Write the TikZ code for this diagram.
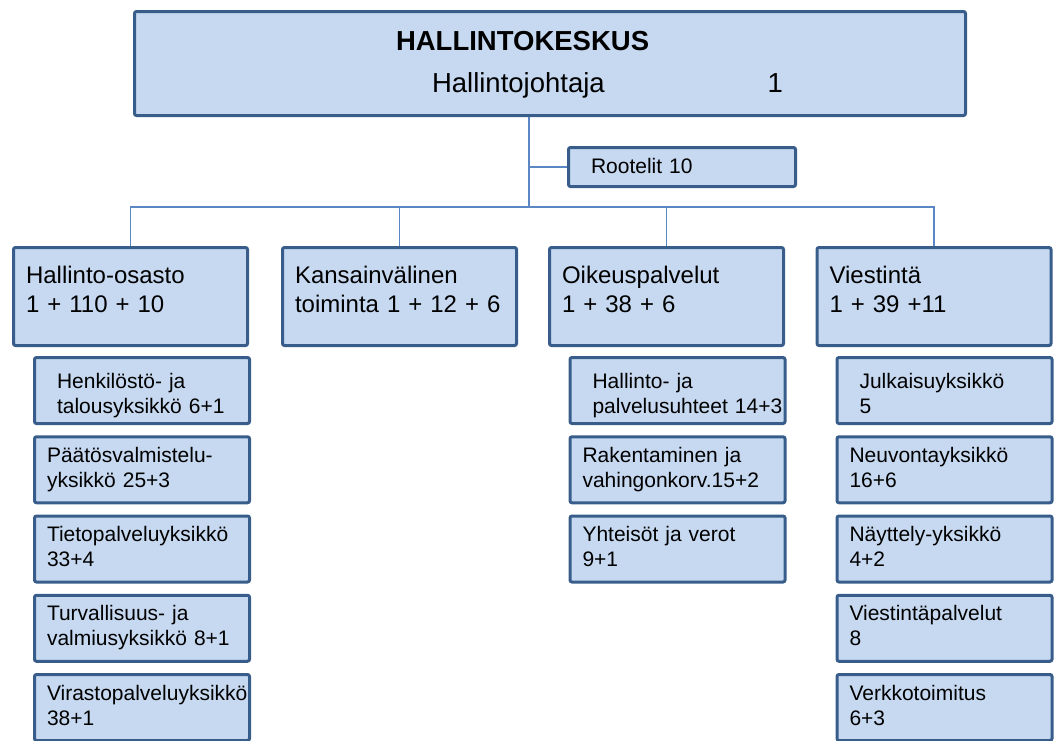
\documentclass[tikz,border=0pt]{standalone}
\usepackage{fontspec}
\setmainfont{Liberation Sans}
\usepackage{tikz}
\definecolor{orgfill}{HTML}{C6D9F1}
\definecolor{orgborder}{HTML}{385D8A}
\definecolor{orglink}{HTML}{5B87C5}
\tikzstyle{box} = [rectangle, rounded corners=2pt, draw=orgborder, line width=3pt, fill=orgfill, align=left, inner ysep=0pt]
\tikzstyle{head} = [box, font=\fontsize{27.5}{42}\selectfont, inner xsep=0pt, text width=831pt, text height=38.5pt, text depth=65.5pt]
\tikzstyle{side} = [box, font=\fontsize{21}{25}\selectfont, inner xsep=22.5pt, text width=182pt, text height=25.5pt, text depth=13.5pt]
\tikzstyle{dept} = [box, font=\fontsize{24}{29}\selectfont, inner xsep=12.5pt, text width=209pt, text height=35.5pt, text depth=62.5pt]
\tikzstyle{unit} = [box, font=\fontsize{21}{25}\selectfont, inner xsep=12.5pt, text width=190pt, text height=25.5pt, text depth=40.5pt]
\tikzstyle{unitlead} = [unit, text height=30.5pt, text depth=35.5pt, execute at begin node={\leftskip=10pt}]
\tikzstyle{link} = [draw=orglink, line width=1.3pt]

\begin{document}
\begin{tikzpicture}[x=1pt, y=1pt]

        \useasboundingbox (0,0) rectangle (1060,-740);
        \clip (0,0) rectangle (1060,-740);

        \node (hq) [head] at (550,-63.5)
            {\hspace*{261.5pt}\textbf{HALLINTOKESKUS}\\
             \hspace*{297.5pt}Hallintojohtaja\hspace{163pt}1};
        \node (rootelit) [side] at (682,-167) {Rootelit 10};

        % departments in one row under the bus
        \node (hos) [dept] at (130.5,-296.5) {Hallinto-osasto\\1 + 110 + 10};
        \node (kv)  [dept] at (399.5,-296.5) {Kansainvälinen\\toiminta 1 + 12 + 6};
        \node (oik) [dept] at (666.5,-296.5) {Oikeuspalvelut\\1 + 38 + 6};
        \node (vie) [dept] at (934,-296.5) {Viestintä\\1 + 39 +11};

        % Hallinto-osasto units
        \node (hos1) [unitlead] at (142,-390.5)
            {Henkilöstö- ja\\talousyksikkö 6+1};
        \node (hos2) [unit, below of=hos1, node distance=79.25pt]
            {Päätösvalmistelu-\\yksikkö 25+3};
        \node (hos3) [unit, below of=hos2, node distance=79.25pt]
            {Tietopalveluyksikkö\\33+4};
        \node (hos4) [unit, below of=hos3, node distance=79.25pt]
            {Turvallisuus- ja\\valmiusyksikkö 8+1};
        \node (hos5) [unit, below of=hos4, node distance=79.25pt]
            {\mbox{Virastopalveluyksikkö}\\38+1};

        % Oikeuspalvelut units
        \node (oik1) [unitlead] at (677.5,-390.5)
            {Hallinto- ja\\\mbox{palvelusuhteet 14+3}};
        \node (oik2) [unit, below of=oik1, node distance=79.25pt]
            {Rakentaminen ja\\vahingonkorv.15+2};
        \node (oik3) [unit, below of=oik2, node distance=79.25pt]
            {Yhteisöt ja verot\\9+1};

        % Viestinta units
        \node (vie1) [unitlead] at (944.5,-390.5) {Julkaisuyksikkö\\5};
        \node (vie2) [unit, below of=vie1, node distance=79.25pt]
            {Neuvontayksikkö\\16+6};
        \node (vie3) [unit, below of=vie2, node distance=79.25pt]
            {Näyttely-yksikkö\\4+2};
        \node (vie4) [unit, below of=vie3, node distance=79.25pt]
            {Viestintäpalvelut\\8};
        \node (vie5) [unit, below of=vie4, node distance=79.25pt]
            {Verkkotoimitus\\6+3};

        % lines
        \coordinate (bus) at (529,-207);
        \draw [link] (hq.south -| bus) -- (bus) ;
        \draw [link] (rootelit.west) -- (rootelit.west -| bus) ;
        \draw [link] (bus) -| (hos.north) ;
        \draw [link] (bus) -| (kv.north) ;
        \draw [link] (bus) -| (oik.north) ;
        \draw [link] (bus) -| (vie.north) ;

\end{tikzpicture}
\end{document}
